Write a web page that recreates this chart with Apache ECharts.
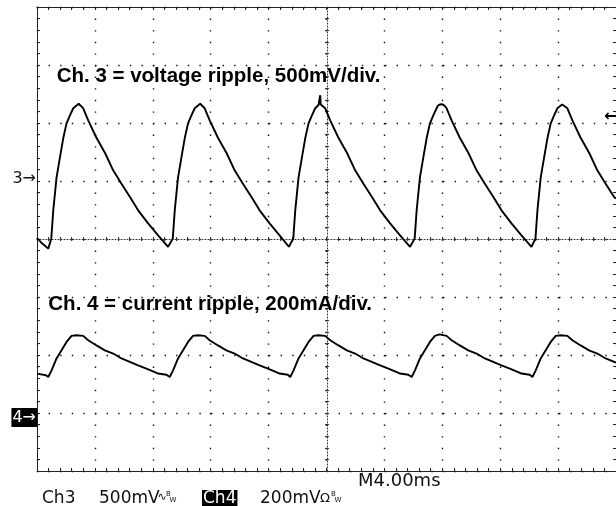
<!DOCTYPE html>
<html>
<head>
<meta charset="utf-8">
<script src="https://cdn.jsdelivr.net/npm/echarts@6/dist/echarts.min.js"></script>
<style>
html,body{margin:0;padding:0;background:#fff;}
#c{width:616px;height:506px;}
</style>
</head>
<body>
<div id="c"></div>
<script>
// ---- Data (time in ms, Ch3 in mV relative to its marker, Ch4 in mA relative to its marker) ----
const ch3Start  = [[0,-491],[0.345,-537]];
const ch3Cycle1 = [[0.779,-583],[0.986,-497],[1.124,-253],[1.351,32],[1.586,204],[1.813,368],[2.041,497],[2.276,566],[2.503,627],[2.882,666],[3.193,627],[3.538,523],[4.089,377],[4.710,239],[5.262,92],[5.813,-20],[6.434,-141],[6.986,-253],[7.676,-365],[8.365,-468],[9.055,-567]];
const ch3Cycle2 = [[9.172,-583],[9.379,-497],[9.517,-253],[9.744,32],[9.979,204],[10.206,368],[10.434,497],[10.669,566],[10.896,627],[11.275,666],[11.586,627],[11.931,523],[12.482,377],[13.103,239],[13.655,92],[14.206,-20],[14.827,-141],[15.379,-253],[16.069,-365],[16.758,-468],[17.400,-567]];
const ch3Cycle3 = [[17.497,-583],[17.704,-497],[17.842,-253],[18.069,32],[18.304,204],[18.531,368],[18.759,497],[18.994,566],[19.221,627],[19.450,655],[19.566,739],[19.600,660],[19.700,662],[19.911,627],[20.256,523],[20.807,377],[21.428,239],[21.980,92],[22.531,-20],[23.152,-141],[23.704,-253],[24.394,-365],[25.083,-468],[25.773,-567]];
const ch3Cycle4 = [[25.883,-583],[26.090,-497],[26.228,-253],[26.455,32],[26.690,204],[26.917,368],[27.145,497],[27.380,566],[27.607,627],[27.700,650],[27.850,660],[28.000,662],[28.150,650],[28.297,627],[28.642,523],[29.193,377],[29.814,239],[30.366,92],[30.917,-20],[31.538,-141],[32.090,-253],[32.780,-365],[33.469,-468],[34.159,-567]];
const ch3Cycle5 = [[34.228,-583],[34.435,-497],[34.573,-253],[34.800,32],[35.035,204],[35.262,368],[35.490,497],[35.725,566],[35.952,627],[36.280,660],[36.642,627],[36.987,523],[37.538,377],[38.159,239],[38.711,92],[39.262,-20],[39.883,-141],[40.000,-150]];

const ch4Start  = [[0,136],[0.621,130]];
const ch4Cycle1 = [[0.779,124],[1.007,147],[1.351,188],[1.696,216],[2.041,245],[2.386,266],[2.710,268],[3.193,266],[3.538,251],[4.110,233],[4.689,216],[5.262,205],[5.834,188],[6.413,176],[6.986,164],[7.558,153],[8.138,141],[8.365,136],[8.938,132]];
const ch4Cycle2 = [[9.172,124],[9.400,147],[9.744,188],[10.089,216],[10.434,245],[10.779,266],[11.103,268],[11.586,266],[11.931,251],[12.503,233],[13.082,216],[13.655,205],[14.227,188],[14.806,176],[15.379,164],[15.951,153],[16.531,141],[16.758,136],[17.331,132]];
const ch4Cycle3 = [[17.497,124],[17.725,147],[18.069,188],[18.414,216],[18.759,245],[19.104,266],[19.428,268],[19.911,266],[20.256,251],[20.828,233],[21.407,216],[21.980,205],[22.552,188],[23.131,176],[23.704,164],[24.276,153],[24.856,141],[25.083,136],[25.656,132]];
const ch4Cycle4 = [[25.883,124],[26.111,147],[26.455,188],[26.800,216],[27.145,245],[27.490,266],[27.814,271],[28.297,266],[28.642,251],[29.214,233],[29.793,216],[30.366,205],[30.938,188],[31.517,176],[32.090,164],[32.662,153],[33.242,141],[33.469,136],[34.042,132]];
const ch4Cycle5 = [[34.228,124],[34.456,147],[34.800,188],[35.145,216],[35.490,245],[35.835,266],[36.159,268],[36.642,266],[36.987,251],[37.559,233],[38.138,216],[38.711,205],[39.283,188],[40.000,174]];

// axis ranges (10 horizontal divisions of 4 ms, 8 vertical divisions)
const timeAxis = {min:0, max:40, interval:4};
const ch3Axis  = {min:-2500, max:1500, interval:500};
const ch4Axis  = {min:-200, max:1400, interval:200};

// texts
const annotations = ['Ch. 3 = voltage ripple, 500mV/div.', 'Ch. 4 = current ripple, 200mA/div.'];
const readouts = ['Ch3', '500mV', 'Ch4', '200mV', 'M4.00ms'];
const markers = ['3\u2192', '4\u2192', '\u2190'];

const ch3Data = [].concat(ch3Start, ch3Cycle1, ch3Cycle2, ch3Cycle3, ch3Cycle4, ch3Cycle5);
const ch4Data = [].concat(ch4Start, ch4Cycle1, ch4Cycle2, ch4Cycle3, ch4Cycle4, ch4Cycle5);

const BORDER = '#222';
const DOT = '#111';
const gridDots = {show:true, lineStyle:{color:DOT, width:1.4, type:[1.4, 10.2]}};

function edgeAxis(range, position, split) {
  return Object.assign({}, range, {
    type:'value', position:position,
    axisLine:{show:true, onZero:false, lineStyle:{color:BORDER, width:1}},
    axisTick:{show:true, inside:true, length:3, lineStyle:{color:BORDER}},
    minorTick:{show:true, splitNumber:5, length:3, lineStyle:{color:BORDER}},
    axisLabel:{show:false},
    splitLine: split ? gridDots : {show:false},
    minorSplitLine:{show:false}
  });
}
function centerAxis(range, position, offset, inside, showLine) {
  return Object.assign({}, range, {
    type:'value', position:position, offset:offset,
    axisLine:{show:showLine, onZero:false, lineStyle:{color:'#333', width:1, type:[1,2]}},
    axisTick:{show:true, inside:inside, length:2, lineStyle:{color:'#333'}},
    minorTick:{show:true, splitNumber:5, length:2, lineStyle:{color:'#333'}},
    axisLabel:{show:false},
    splitLine:{show:false}
  });
}

const textEl = (text, x, y, font, opts) => ({
  type:'text', z:100, silent:true,
  style:Object.assign({
    text:text, x:x, y:y, font:font, fill:'#111',
    align:'left', textAlign:'left',
    verticalAlign:'middle', textVerticalAlign:'middle'
  }, opts || {})
});

const ANNO_FONT = 'bold 20.5px "Liberation Sans", Arial, sans-serif';
const READ_FONT = '17px "DejaVu Sans", sans-serif';

const option = {
  animation:false,
  backgroundColor:'#fff',
  grid:{left:37, top:7, width:580, height:464, show:false},
  xAxis:[
    edgeAxis(timeAxis, 'bottom', true),
    edgeAxis(timeAxis, 'top', false),
    centerAxis({min:0, max:10, interval:1}, 'bottom', -232, true, true),
    centerAxis({min:0, max:10, interval:1}, 'bottom', -232, false, false)
  ],
  yAxis:[
    edgeAxis(ch3Axis, 'left', true),
    edgeAxis(ch4Axis, 'right', false),
    centerAxis({min:0, max:8, interval:1}, 'left', -290, true, true),
    centerAxis({min:0, max:8, interval:1}, 'left', -290, false, false)
  ],
  series:[
    {type:'line', name:'Ch3', xAxisIndex:0, yAxisIndex:0, data:ch3Data, showSymbol:false, symbol:'none',
     lineStyle:{color:'#000', width:1.9}, z:10},
    {type:'line', name:'Ch4', xAxisIndex:0, yAxisIndex:1, data:ch4Data, showSymbol:false, symbol:'none',
     lineStyle:{color:'#000', width:1.9}, z:10}
  ],
  graphic:{elements:[
    textEl(annotations[0], 56.7, 76.2, ANNO_FONT, {fill:'#000'}),
    textEl(annotations[1], 48.3, 304.6, ANNO_FONT, {fill:'#000'}),
    textEl(markers[0], 36, 179, '16px "DejaVu Sans", sans-serif', {align:'right', textAlign:'right'}),
    textEl(markers[1], 37, 417.5, '16px "DejaVu Sans", sans-serif',
      {align:'right', textAlign:'right', fill:'#fff', backgroundColor:'#000', padding:[2,1,1,1]}),
    textEl(markers[2], 604, 117, 'bold 16px "DejaVu Sans", sans-serif', {fill:'#000'}),
    textEl(readouts[0], 42, 498.4, READ_FONT),
    textEl(readouts[1], 99, 498.4, READ_FONT),
    textEl('\u223F', 157.5, 497, '11px "DejaVu Sans", sans-serif'),
    textEl('B', 166, 494, '7px "DejaVu Sans", sans-serif'),
    textEl('W', 169.5, 500, '7px "DejaVu Sans", sans-serif'),
    textEl(readouts[2], 202, 498.4, READ_FONT, {fill:'#fff', backgroundColor:'#000', padding:[0,1,0,1]}),
    textEl(readouts[3], 260, 498.4, READ_FONT),
    textEl('\u03A9', 320, 498.4, '13px "DejaVu Sans", sans-serif'),
    textEl('B', 331, 494, '7px "DejaVu Sans", sans-serif'),
    textEl('W', 334.5, 500, '7px "DejaVu Sans", sans-serif'),
    textEl(readouts[4], 358, 481.4, '18px "DejaVu Sans", sans-serif')
  ]}
};

const chart = echarts.init(document.getElementById('c'), null, {renderer:'canvas'});
chart.setOption(option);
</script>
</body>
</html>
